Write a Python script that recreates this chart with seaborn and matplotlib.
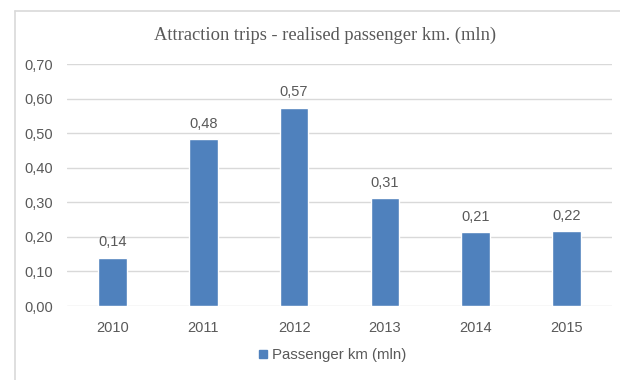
import matplotlib
matplotlib.use("Agg")
import matplotlib.pyplot as plt
import pandas as pd
import seaborn as sns
from matplotlib.lines import Line2D

years = ["2010", "2011", "2012", "2013", "2014", "2015"]
passenger_km = [0.140, 0.483, 0.574, 0.311, 0.214, 0.217]
y_ticks = [0.0, 0.1, 0.2, 0.3, 0.4, 0.5, 0.6, 0.7]

bar_color = "#4F81BD"
text_color = "#595959"
grid_color = "#D9D9D9"

sns.set_style("white")
plt.rcParams["font.family"] = ["Liberation Sans", "DejaVu Sans"]

df = pd.DataFrame({"year": years, "value": passenger_km})

W, H = 620, 380
fig = plt.figure(figsize=(W / 100, H / 100), dpi=100)
fig.patch.set_edgecolor("none")
fig.patch.set_linewidth(0)

# chart area border: only left and top edges are inside the picture
top = 1 - 10.5 / H
left = 14.5 / W
fig.add_artist(Line2D([left, left], [-0.1, top], color="#D9D9D9", linewidth=1.2,
                      transform=fig.transFigure))
fig.add_artist(Line2D([left, 1.1], [top, top], color="#D9D9D9", linewidth=1.2,
                      transform=fig.transFigure))

ax = fig.add_axes([67 / W, (H - 306) / H, 545 / W, (306 - 64) / H])
sns.barplot(data=df, x="year", y="value", color=bar_color, width=0.314,
            saturation=1, ax=ax)

ax.set_ylim(0, 0.7)
ax.set_yticks(y_ticks)
ax.set_yticklabels([f"{v:.2f}".replace(".", ",") for v in y_ticks])
ax.yaxis.grid(True, color=grid_color, linewidth=1)
ax.set_axisbelow(True)
for s in ax.spines.values():
    s.set_visible(False)
ax.tick_params(axis="both", length=0, labelsize=10.5, colors=text_color)
ax.tick_params(axis="y", pad=10)
ax.tick_params(axis="x", pad=11)
ax.set_xlabel("")
ax.set_ylabel("")

for i, v in enumerate(passenger_km):
    ax.annotate(f"{v:.2f}".replace(".", ","), (i, v), xytext=(0, 6),
                textcoords="offset points", ha="center", va="bottom",
                fontsize=10.5, color=text_color)

fig.text(325 / W, 1 - 35 / H, "Attraction trips - realised passenger km. (mln)",
         ha="center", va="center", fontsize=13.3, color=text_color,
         family=["Liberation Serif", "DejaVu Serif"])

handle = Line2D([], [], marker="s", linestyle="none", markersize=6,
                markerfacecolor=bar_color, markeredgecolor=bar_color)
fig.legend([handle], ["Passenger km (mln)"], loc="center",
           bbox_to_anchor=(331 / W, 1 - 355 / H), frameon=False, fontsize=10.8,
           handletextpad=0.05, handlelength=1.0, labelcolor=text_color)

fig.savefig("out.png", dpi=100)
